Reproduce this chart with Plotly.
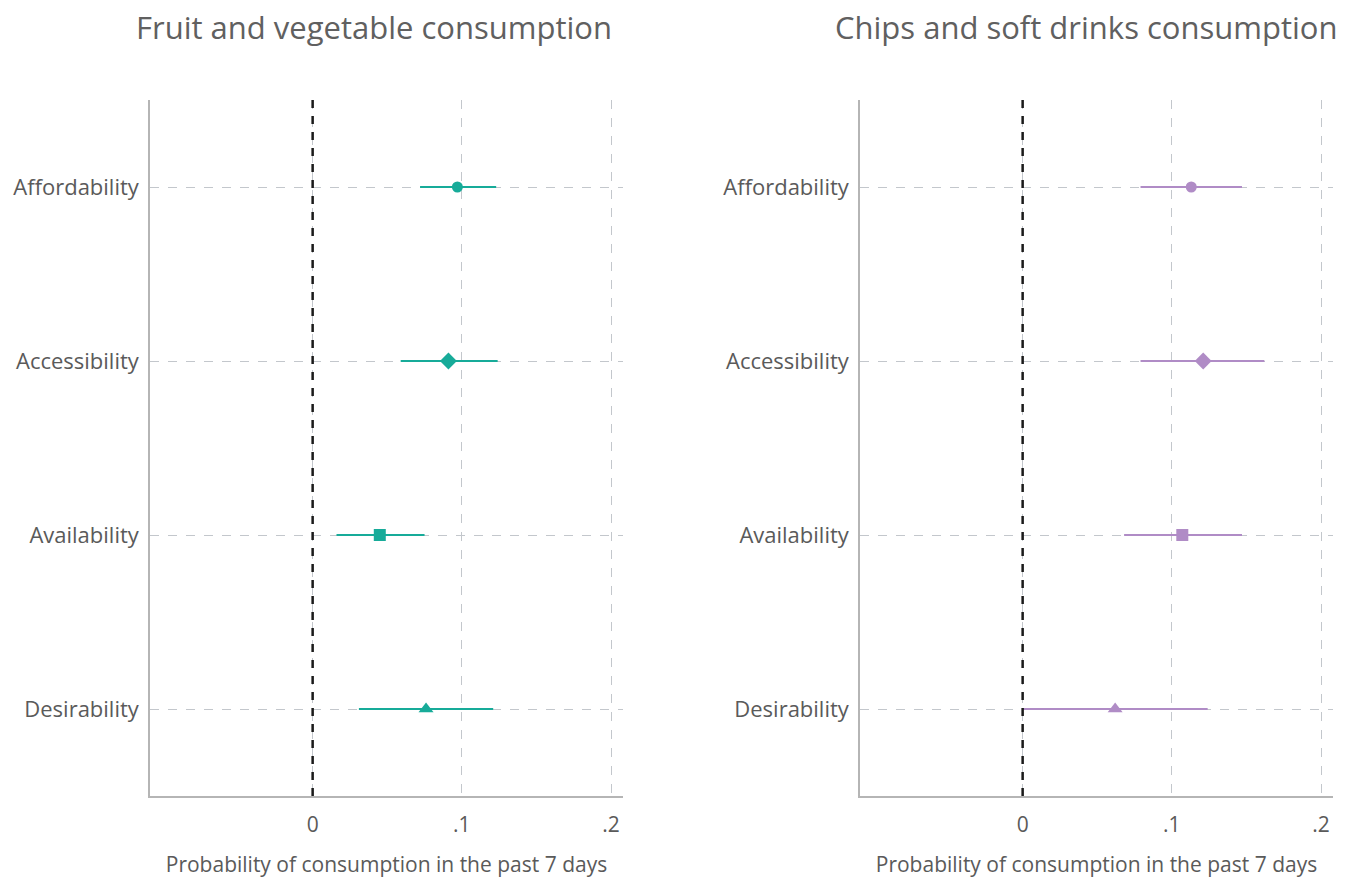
import plotly.graph_objects as go

# Dimensions of the food environment
categories = ["Affordability", "Accessibility", "Availability", "Desirability"]
category_order = ["Desirability", "Availability", "Accessibility", "Affordability"]
symbols = ["circle", "diamond", "square", "triangle-up"]
marker_sizes = [11, 13, 12, 13]

# Fruit and vegetable consumption: point estimate and 95% CI
fv_est = [0.097, 0.091, 0.045, 0.076]
fv_lo = [0.072, 0.059, 0.016, 0.031]
fv_hi = [0.123, 0.124, 0.075, 0.121]

# Chips and soft drinks consumption: point estimate and 95% CI
cs_est = [0.113, 0.121, 0.107, 0.062]
cs_lo = [0.079, 0.079, 0.068, 0.000]
cs_hi = [0.147, 0.162, 0.147, 0.124]

x_ticks = [0, 0.1, 0.2]
x_ticklabels = ["0", ".1", ".2"]

titles = ["Fruit and vegetable consumption", "Chips and soft drinks consumption"]
x_title = "Probability of consumption in the past 7 days"

TEAL = "#17ab99"
PURPLE = "#b08cc6"
TEXT = "#5a5a5a"
GRID = "#c3c7cc"
FONT = "Open Sans"

W, H = 1351, 878
fig = go.Figure()

panels = [
    (fv_est, fv_lo, fv_hi, TEAL, "x", "y", [150 / W, 623 / W]),
    (cs_est, cs_lo, cs_hi, PURPLE, "x2", "y2", [860 / W, 1333 / W]),
]
ydom = [1 - 796 / H, 1 - 100 / H]

for est, lo, hi, color, xa, ya, dom in panels:
    for i, cat in enumerate(categories):
        fig.add_trace(go.Scatter(
            x=[est[i]], y=[cat], xaxis=xa, yaxis=ya, mode="markers",
            marker=dict(symbol=symbols[i], size=marker_sizes[i], color=color,
                        line=dict(width=0)),
            error_x=dict(type="data", symmetric=False,
                         array=[hi[i] - est[i]], arrayminus=[est[i] - lo[i]],
                         color=color, thickness=2, width=0),
            showlegend=False, hoverinfo="x+y",
        ))
    # reference line at zero
    fig.add_shape(
        type="line", xref=xa, yref=f"{ya} domain", x0=0, x1=0, y0=0, y1=1,
        line=dict(color="#1a1a1a", width=2.5, dash="8px,8px"), layer="above",
    )

axis_common = dict(
    showline=True, linecolor="#b5b5b5", linewidth=1.5, mirror=False,
    showgrid=True, gridcolor=GRID, gridwidth=1, griddash="dash",
    zeroline=False, ticks="",
)

for k, (est, lo, hi, color, xa, ya, dom) in enumerate(panels):
    xname = "xaxis" if xa == "x" else "xaxis2"
    yname = "yaxis" if ya == "y" else "yaxis2"
    fig.layout[xname] = dict(
        axis_common, domain=dom, anchor=ya, range=[-0.109, 0.208],
        tickvals=x_ticks, ticktext=x_ticklabels, ticklabelstandoff=9,
        tickfont=dict(family=FONT, size=21, color=TEXT),
        title=dict(text=x_title, font=dict(family=FONT, size=21, color=TEXT),
                   standoff=24),
    )
    fig.layout[yname] = dict(
        axis_common, domain=ydom, anchor=xa, type="category",
        categoryorder="array", categoryarray=category_order,
        range=[-0.5, 3.5], ticklabelstandoff=5,
        tickfont=dict(family=FONT, size=22, color=TEXT),
    )
    fig.add_annotation(
        text=titles[k], xref="paper", yref="paper",
        x=[374 / W, 1086 / W][k], y=1 - 27 / H, xanchor="center", yanchor="middle",
        showarrow=False, font=dict(family=FONT, size=31, color="#606060"),
    )

fig.update_layout(
    width=W, height=H, margin=dict(l=0, r=0, t=0, b=0),
    plot_bgcolor="white", paper_bgcolor="white",
    font=dict(family=FONT, color=TEXT),
)

fig.write_html("out.html")
